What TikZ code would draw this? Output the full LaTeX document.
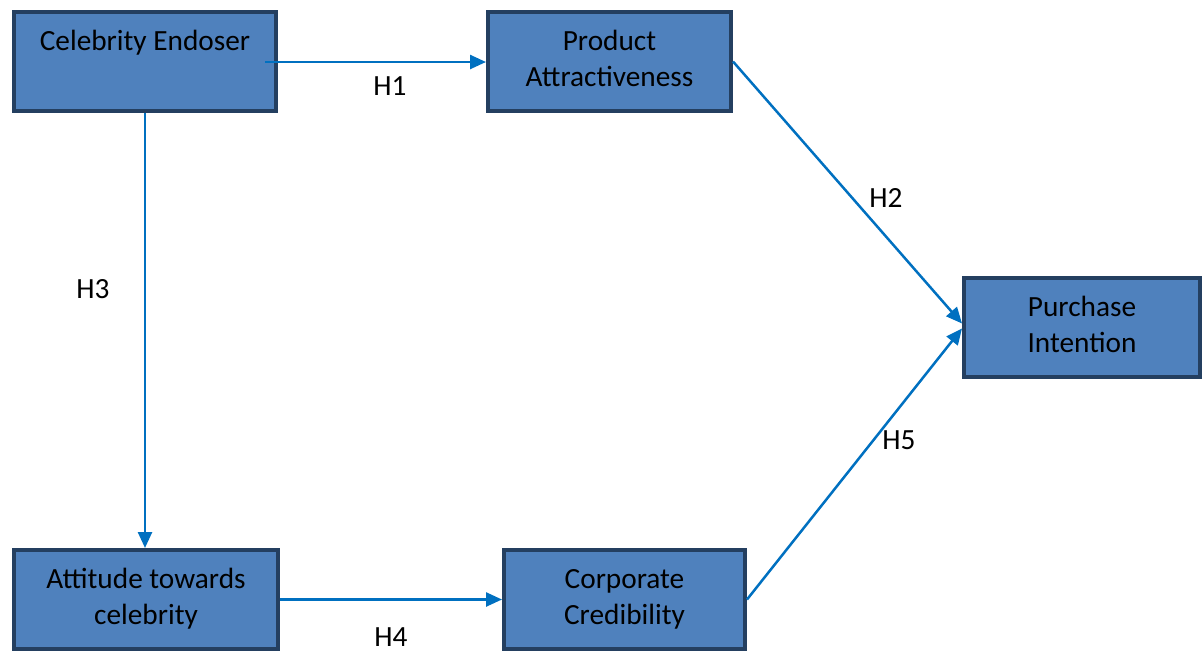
\documentclass[tikz,border=0pt]{standalone}
\usepackage{fontspec}
\setmainfont{Carlito}
\usetikzlibrary{arrows.meta, positioning}
\definecolor{boxfill}{HTML}{4F81BD}
\definecolor{boxedge}{HTML}{243F60}
\definecolor{arrowblue}{HTML}{0070C0}
\tikzstyle{block} = [rectangle, draw=boxedge, line width=4pt, fill=boxfill, align=center, minimum height=99pt, inner sep=0pt, font=\fontsize{29.3}{36}\selectfont]
\tikzstyle{line} = [draw=arrowblue, line width=2.5pt, -{Triangle[length=16pt, width=14pt]}]
\tikzstyle{hyp} = [font=\fontsize{29.3}{36}\selectfont, inner sep=0pt]

\begin{document}
\begin{tikzpicture}[x=1pt, y=-1pt]
        \useasboundingbox (0,0) rectangle (1202,657);
        % Nodes
        \node [block, minimum width=262pt] (endorser) at (145,61.5) {\strut Celebrity Endoser\\\strut};
        \node [block, minimum width=243pt] (attract) at (609.5,61.5) {\strut Product\\\strut Attractiveness};
        \node [block, minimum width=236pt] (purchase) at (1082,327.5) {\strut Purchase\\\strut Intention};
        \node [block, minimum width=264pt] (attitude) at (146,599.5) {\strut Attitude towards\\\strut celebrity};
        \node [block, minimum width=241pt] (credib) at (624.5,599.5) {\strut Corporate\\\strut Credibility};
        \coordinate (h1start) at (265,62);

        % Arrows
        \path [line] (h1start) -- (attract.west |- h1start);
        \path [line] (attract.east) -- ([yshift=4pt]purchase.west);
        \path [line] (endorser.south) -- (endorser.south |- attitude.north);
        \path [line] (attitude.east) -- (credib.west |- attitude.east);
        \path [line] (credib.east) -- ([yshift=-1pt]purchase.west);

        % Labels
        \node [hyp] (h1) at (390,86) {H1};
        \node [hyp] (h2) at (886,198) {H2};
        \node [hyp] (h3) at (93,289) {H3};
        \node [hyp] (h4) at (391,637) {H4};
        \node [hyp] (h5) at (899,440) {H5};
    \end{tikzpicture}
\end{document}
